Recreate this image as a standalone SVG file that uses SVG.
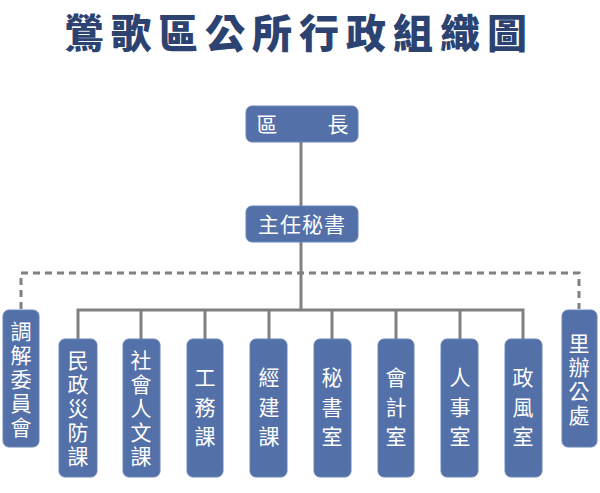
<svg xmlns="http://www.w3.org/2000/svg" width="600" height="493" viewBox="0 0 600 493">
<style>
.box{fill:#5470a8;stroke:#6a84b8;stroke-width:1}
.t{font-family:"Noto Sans CJK TC","Noto Sans CJK SC",sans-serif;fill:#fff;font-size:21px;text-anchor:middle}
.v{writing-mode:vertical-rl;letter-spacing:3px}
.v3{writing-mode:vertical-rl;letter-spacing:8.5px}
.ln{stroke:#808080;stroke-width:3;fill:none}
.dash{stroke:#808080;stroke-width:3;fill:none;stroke-dasharray:7 5}
.title{font-family:"Noto Sans CJK TC","Noto Sans CJK SC",sans-serif;font-weight:900;font-size:40px;fill:#2c4372}
</style>
<rect width="600" height="493" fill="#fff"/>
<text class="title" x="64" y="48" letter-spacing="7">鶯歌區公所行政組織圖</text>
<g id="connectors">
<path class="dash" d="M21 309 V273 H579 V309"/>
<path class="ln" d="M301 142 V310"/>
<path class="ln" d="M78 339 V310 H523 V339"/>
<path class="ln" d="M141 310 V339 M205 310 V339 M269 310 V339 M332 310 V339 M396 310 V339 M460 310 V339"/>
</g>
<g id="n-head"><rect class="box" x="246" y="106" width="112" height="36" rx="6"/><text class="t" x="267" y="132">區</text><text class="t" x="338" y="132">長</text></g>
<g id="n-sec"><rect class="box" x="246" y="206" width="112" height="36" rx="6"/><text class="t" x="302" y="232" font-size="22" letter-spacing="1">主任秘書</text></g>
<g id="n-tiao"><rect class="box" x="3" y="310" width="36" height="137" rx="6"/><text class="t v" x="21" y="381">調解委員會</text></g>
<g id="n-min"><rect class="box" x="59" y="339" width="38" height="138" rx="6"/><text class="t v" x="78" y="410">民政災防課</text></g>
<g id="n-she"><rect class="box" x="123" y="339" width="37" height="138" rx="6"/><text class="t v" x="141" y="410">社會人文課</text></g>
<g id="n-gong"><rect class="box" x="187" y="339" width="36" height="138" rx="6"/><text class="t v3" x="205" y="411">工務課</text></g>
<g id="n-jing"><rect class="box" x="250" y="339" width="37" height="138" rx="6"/><text class="t v3" x="269" y="411">經建課</text></g>
<g id="n-mi"><rect class="box" x="314" y="339" width="37" height="138" rx="6"/><text class="t v3" x="332" y="411">秘書室</text></g>
<g id="n-kuai"><rect class="box" x="378" y="339" width="36" height="138" rx="6"/><text class="t v3" x="396" y="411">會計室</text></g>
<g id="n-ren"><rect class="box" x="441" y="339" width="37" height="138" rx="6"/><text class="t v3" x="460" y="411">人事室</text></g>
<g id="n-zheng"><rect class="box" x="505" y="339" width="37" height="138" rx="6"/><text class="t v3" x="523" y="411">政風室</text></g>
<g id="n-li"><rect class="box" x="562" y="310" width="35" height="137" rx="6"/><text class="t v" x="579" y="381">里辦公處</text></g>
</svg>
